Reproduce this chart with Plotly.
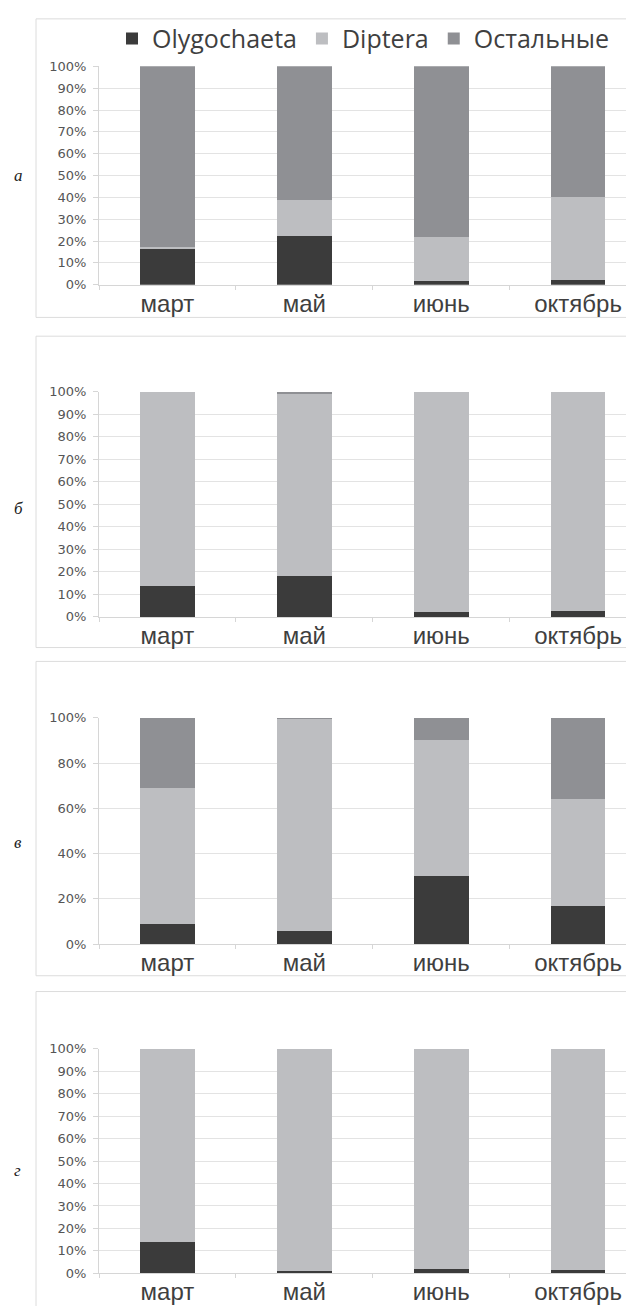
import plotly.graph_objects as go
from plotly.subplots import make_subplots

months = ["март", "май", "июнь", "октябрь"]
groups = ["Olygochaeta", "Diptera", "Остальные"]
colors = ["#3b3b3b", "#bdbec1", "#8f9094"]
panel_letters = ["а", "б", "в", "г"]

# share of each group, % of total, per month
olygochaeta = [
    [16.5, 22.5, 1.5, 2.0],
    [13.5, 18.0, 2.0, 2.5],
    [9.0, 6.0, 30.0, 17.0],
    [14.0, 1.0, 2.0, 1.3],
]
diptera = [
    [1.0, 16.5, 20.5, 38.0],
    [86.5, 80.8, 98.0, 97.5],
    [60.0, 93.7, 60.0, 47.0],
    [86.0, 99.0, 98.0, 98.7],
]
others = [
    [82.5, 61.0, 78.0, 60.0],
    [0.0, 1.2, 0.0, 0.0],
    [31.0, 0.3, 10.0, 36.0],
    [0.0, 0.0, 0.0, 0.0],
]
y_steps = [10, 10, 20, 10]

W, H = 626, 1306
# pixel layout of the four panels: (y of 100%, y of 0%, frame top, frame bottom, letter y)
panels = [
    (60, 281, 12, 314, 170),
    (389, 617, 333, 648, 507),
    (719, 948, 662, 980, 845),
    (1054, 1281, 996, 1320, 1177),
]
x_left = 99

def py(v):
    return 1 - v / H

fig = make_subplots(rows=4, cols=1)

for i in range(4):
    series = [olygochaeta[i], diptera[i], others[i]]
    for name, vals, col in zip(groups, series, colors):
        fig.add_trace(
            go.Bar(
                x=months, y=vals, name=name,
                marker=dict(color=col, line=dict(width=0)),
                showlegend=(i == 0),
            ),
            row=i + 1, col=1,
        )

gridc = "#e3e3e3"
linec = "#d6d6d6"
for i, (top, bot, ftop, fbot, ly) in enumerate(panels):
    k = "" if i == 0 else str(i + 1)
    fig.layout["xaxis" + k].update(
        domain=[x_left / W, 1],
        range=[-0.5, 3.35],
        showline=True, linecolor=linec, linewidth=1,
        ticks="outside", tickson="boundaries", ticklen=4, tickcolor=linec,
        showgrid=False,
        tickfont=dict(family="Liberation Sans", size=24, color="#3f3f3f"),
        ticklabelstandoff=-3,
    )
    fig.layout["yaxis" + k].update(
        domain=[py(bot), py(top)],
        range=[0, 100],
        dtick=y_steps[i],
        ticksuffix="%",
        showline=True, linecolor=linec, linewidth=1,
        ticks="outside", ticklen=5, tickcolor=linec,
        showgrid=True, gridcolor=gridc, gridwidth=1,
        zeroline=False,
        tickfont=dict(family="DejaVu Sans", size=13, color="#555555"),
        ticklabelstandoff=4,
    )
    fig.add_shape(
        type="rect", xref="paper", yref="paper",
        x0=36 / W, x1=1.02, y0=py(fbot), y1=py(ftop),
        line=dict(color="#dcdcdc", width=1), fillcolor="rgba(0,0,0,0)",
        layer="below",
    )
    fig.add_annotation(
        x=12 / W, y=py(ly), xref="paper", yref="paper",
        text="<i>" + panel_letters[i] + "</i>", showarrow=False,
        xanchor="left", yanchor="middle",
        font=dict(family="Liberation Serif", size=17, color="#222222"),
    )

fig.update_layout(
    width=W, height=H,
    margin=dict(l=0, r=0, t=0, b=0),
    barmode="stack", bargap=0.6,
    paper_bgcolor="white", plot_bgcolor="white",
    legend=dict(
        orientation="h", x=112 / W, y=py(32), xanchor="left", yanchor="middle",
        traceorder="normal",
        font=dict(family="Open Sans", size=25, color="#3f3f3f"),
        bgcolor="rgba(0,0,0,0)",
    ),
)

fig.write_html("out.html")
